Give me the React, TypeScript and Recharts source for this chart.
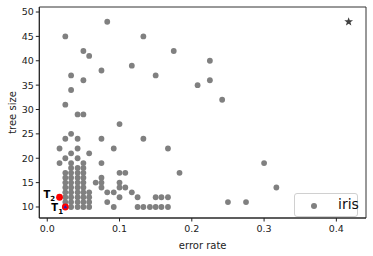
import React from 'react';
import { ScatterChart, Scatter, XAxis, YAxis, ReferenceArea } from 'recharts';

// error rate columns and the tree sizes seen in each column
const errorRates = [
  0.017, 0.025, 0.033, 0.042, 0.05, 0.058, 0.067, 0.075, 0.083, 0.092,
  0.1, 0.108, 0.117, 0.125, 0.133, 0.142, 0.15, 0.158, 0.167, 0.175,
  0.183, 0.208, 0.225, 0.242, 0.25, 0.275, 0.3, 0.317,
];
const treeSizes = [
  [22, 19],
  [45, 31, 24, 20, 17, 16, 15, 14, 13, 12, 11, 10],
  [37, 34, 25, 21, 19, 18, 17, 16, 15, 14, 13, 12, 11, 10],
  [29, 24, 22, 20, 18, 17, 16, 15, 14, 13, 12, 11, 10],
  [42, 36, 29, 19, 18, 17, 16, 15, 14, 13, 12, 11, 10],
  [41, 21, 13, 12, 11, 10],
  [15],
  [38, 24, 19, 16, 15, 14],
  [48, 13, 11],
  [22, 13, 10],
  [27, 17, 15, 14, 12],
  [17, 14],
  [39, 13],
  [12, 10],
  [45, 24, 10],
  [10],
  [37, 12, 10],
  [12, 10],
  [22, 12, 10],
  [42],
  [17],
  [35],
  [40, 36],
  [32],
  [11],
  [11],
  [19],
  [14],
];

const highlighted = [
  { x: 0.025, y: 10, name: 'T', sub: '1' },
  { x: 0.017, y: 12, name: 'T', sub: '2' },
];
const best = [{ x: 0.417, y: 48 }];

const xTicks = [0, 0.1, 0.2, 0.3, 0.4];
const yTicks = [10, 15, 20, 25, 30, 35, 40, 45, 50];
const xDomain = [-0.011, 0.441];
const yDomain = [7.74, 51.03];

const irisPoints = errorRates.flatMap((x, i) => treeSizes[i].map((y) => ({ x, y })));

const font = 'DejaVu Sans, sans-serif';

const GrayDot = (props: any) => <circle cx={props.cx} cy={props.cy} r={2.9} fill="#808080" />;

const TreeDot = (props: any) => {
  const { cx, cy, payload } = props;
  const isT1 = payload.sub === '1';
  return (
    <g>
      <circle cx={cx} cy={cy} r={3.4} fill="#ff0000" />
      {isT1 && (
        <polygon
          points={`${cx},${cy - 2} ${cx - 1.8},${cy + 1.2} ${cx + 1.8},${cy + 1.2}`}
          fill="#2020c0"
        />
      )}
      <text
        x={isT1 ? cx - 14 : cx - 16}
        y={isT1 ? cy + 4 : cy + 1}
        fontFamily={font}
        fontSize={10}
        fontWeight="bold"
        fill="#000"
      >
        {payload.name}
        <tspan fontSize={7} dy={3}>{payload.sub}</tspan>
      </text>
    </g>
  );
};

const Star = (props: any) => {
  const { cx, cy } = props;
  const pts: string[] = [];
  for (let k = 0; k < 10; k++) {
    const r = k % 2 === 0 ? 4.6 : 1.9;
    const a = -Math.PI / 2 + (k * Math.PI) / 5;
    pts.push(`${cx + r * Math.cos(a)},${cy + r * Math.sin(a)}`);
  }
  return <polygon points={pts.join(' ')} fill="#404040" />;
};

function App() {
  return (
    <div style={{ position: 'absolute', left: 0, top: 0, width: 373, height: 256, background: '#fff' }}>
      <ScatterChart width={373} height={256} margin={{ top: 7, right: 7, bottom: 0, left: 0 }}>
        <XAxis
          type="number"
          dataKey="x"
          domain={xDomain}
          ticks={xTicks}
          allowDataOverflow
          tickFormatter={(v: number) => v.toFixed(1)}
          height={38}
          tickSize={3.5}
          tickMargin={4}
          stroke="#222"
          tick={{ fontSize: 9.5, fontFamily: font, fill: '#222' }}
          label={{ value: 'error rate', position: 'insideBottom', offset: 7, fontSize: 10, fontFamily: font, fill: '#222' }}
        />
        <YAxis
          type="number"
          dataKey="y"
          domain={yDomain}
          ticks={yTicks}
          allowDataOverflow
          width={39.3}
          tickSize={3.5}
          stroke="#222"
          tick={{ fontSize: 9.5, fontFamily: font, fill: '#222' }}
          label={{
            value: 'tree size',
            angle: -90,
            position: 'insideLeft',
            offset: 12,
            fontSize: 10,
            fontFamily: font,
            fill: '#222',
            style: { textAnchor: 'middle' },
          }}
        />
        <ReferenceArea
          x1={xDomain[0]}
          x2={xDomain[1]}
          y1={yDomain[0]}
          y2={yDomain[1]}
          fill="none"
          stroke="#333"
          strokeWidth={1}
          ifOverflow="visible"
        />
        <Scatter data={irisPoints} shape={GrayDot} isAnimationActive={false} />
        <Scatter data={highlighted} shape={TreeDot} isAnimationActive={false} />
        <Scatter data={best} shape={Star} isAnimationActive={false} />
      </ScatterChart>
      <div
        style={{
          position: 'absolute',
          left: 294,
          top: 193,
          width: 64,
          height: 24,
          border: '1px solid #d0d0d0',
          borderRadius: 3,
          background: 'rgba(255,255,255,0.8)',
          fontFamily: font,
          fontSize: 14,
          color: '#111',
          boxSizing: 'border-box',
        }}
      >
        <span
          style={{
            position: 'absolute',
            left: 16,
            top: 9,
            width: 6,
            height: 6,
            borderRadius: 3,
            background: '#808080',
          }}
        />
        <span style={{ position: 'absolute', left: 43, top: 2, lineHeight: '17px' }}>iris</span>
      </div>
    </div>
  );
}

export default App;
